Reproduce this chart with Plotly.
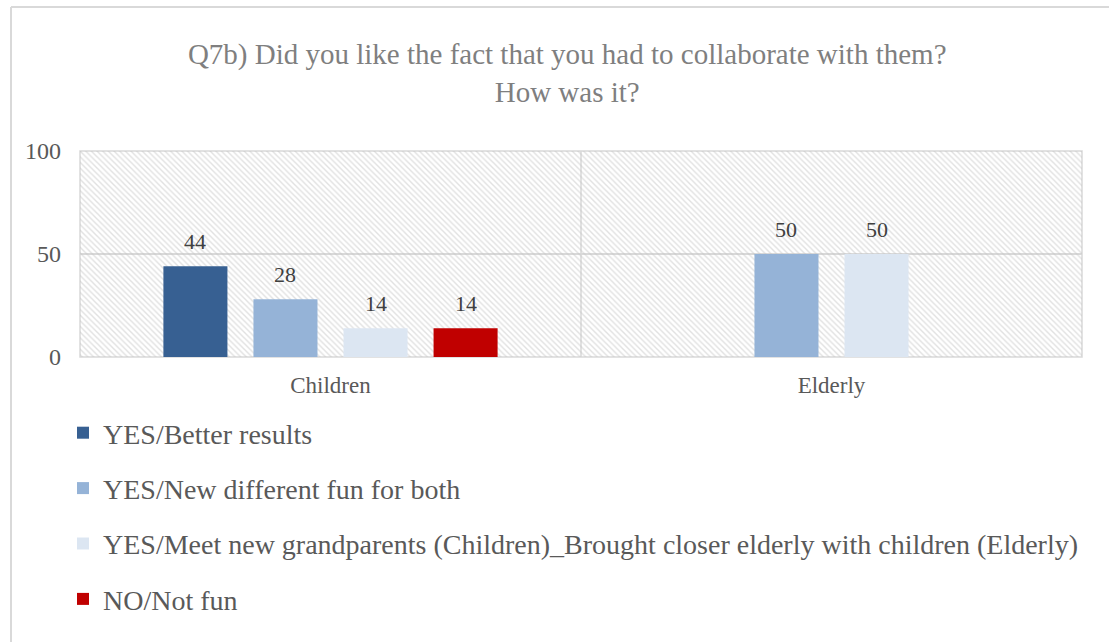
import plotly.graph_objects as go

# Survey answers (percent) per respondent group
categories = ["Children", "Elderly"]
series_names = [
    "YES/Better results",
    "YES/New different fun for both",
    "YES/Meet new grandparents (Children)_Brought closer elderly with children (Elderly)",
    "NO/Not fun",
]
values_better_results = [44, None]
values_new_fun = [28, 50]
values_meet_grandparents = [14, 50]
values_not_fun = [14, None]
y_tick_values = [0, 50, 100]

series_values = [values_better_results, values_new_fun,
                 values_meet_grandparents, values_not_fun]
colors = ["#376092", "#95b3d7", "#dce6f2", "#c00000"]

FONT = "Liberation Serif"
W, H = 1110, 642
L, R, T, B = 80, 1082, 151, 357
BARGAP = 0.281
GROUPGAP = 0.289

fig = go.Figure()

# hatched plot-area background on a hidden numeric axis
fig.add_trace(go.Bar(
    x=[0.5], y=[100], width=[1], xaxis="x", yaxis="y",
    marker=dict(color="rgba(0,0,0,0)", line_width=0,
                pattern=dict(shape="\\", fgcolor="#c4c4c4",
                             bgcolor="rgba(0,0,0,0)", size=4, solidity=0.35)),
    showlegend=False, hoverinfo="skip",
))

for i, (name, vals, col) in enumerate(zip(series_names, series_values, colors)):
    fig.add_trace(go.Bar(
        x=categories, y=vals, name=name, xaxis="x2", yaxis="y",
        marker=dict(color=col, line_width=0),
        legendgroup=f"g{i}",
    ))

# value labels above each bar
slot_px = (R - L) / len(categories) * (1 - BARGAP) / len(series_names)
annotations = []
for i, vals in enumerate(series_values):
    for cat, v in zip(categories, vals):
        if v is None:
            continue
        annotations.append(dict(
            x=cat, y=v, xref="x2", yref="y", text=str(v), showarrow=False,
            xshift=(i - (len(series_names) - 1) / 2) * slot_px,
            yanchor="bottom", yshift=10,
            font=dict(family=FONT, size=22, color="#404040"),
        ))

def paper_x(px):
    return (px - L) / (R - L)

def paper_y(py):
    return (B - py) / (B - T)

border = dict(color="#d9d9d9", width=2)
shapes = [
    # plot-area frame
    dict(type="rect", xref="paper", yref="paper", x0=0, y0=0, x1=1, y1=1,
         line=dict(color="#d9d9d9", width=1.5), layer="below"),
    # divider between the two groups
    dict(type="line", xref="x2", yref="paper", x0=0.5, x1=0.5, y0=0, y1=1,
         line=dict(color="#d9d9d9", width=1.5), layer="below"),
    # chart outer border (left and top edges)
    dict(type="line", xref="paper", yref="paper",
         x0=paper_x(11), x1=paper_x(11), y0=paper_y(H), y1=paper_y(7),
         line=border, layer="below"),
    dict(type="line", xref="paper", yref="paper",
         x0=paper_x(11), x1=paper_x(W - 1), y0=paper_y(7), y1=paper_y(7),
         line=border, layer="below"),
]

fig.update_layout(
    width=W, height=H,
    margin=dict(l=L, r=W - R, t=T, b=H - B, pad=0, autoexpand=False),
    paper_bgcolor="white", plot_bgcolor="white",
    barmode="group", bargap=BARGAP, bargroupgap=GROUPGAP,
    font=dict(family=FONT, color="#595959"),
    title=dict(
        text="Q7b) Did you like the fact that you had to collaborate with them?<br>How was it?",
        x=0.511, xanchor="center", xref="container",
        y=1 - 64 / H, yanchor="middle", yref="container",
        font=dict(family=FONT, size=29, color="#7f7f7f"),
    ),
    xaxis=dict(range=[0, 1], visible=False, fixedrange=True),
    xaxis2=dict(overlaying="x", type="category", anchor="y", side="bottom",
                showgrid=False, showline=False, zeroline=False, ticks="",
                tickfont=dict(family=FONT, size=23, color="#595959"),
                ticklabelstandoff=12),
    yaxis=dict(range=[0, 100], tickvals=y_tick_values, showgrid=True,
               gridcolor="#d9d9d9", gridwidth=1.5, zeroline=False,
               showline=False, ticks="",
               tickfont=dict(family=FONT, size=24, color="#595959"),
               ticklabelstandoff=18),
    legend=dict(
        orientation="v", xref="container", yref="container",
        x=63 / W, xanchor="left", y=1 - 408 / H, yanchor="top",
        traceorder="grouped", tracegroupgap=16,
        font=dict(family=FONT, size=28, color="#595959"),
        bgcolor="rgba(0,0,0,0)",
    ),
    annotations=annotations,
    shapes=shapes,
    showlegend=True,
)

fig.write_html("out.html", config={"displayModeBar": False})
